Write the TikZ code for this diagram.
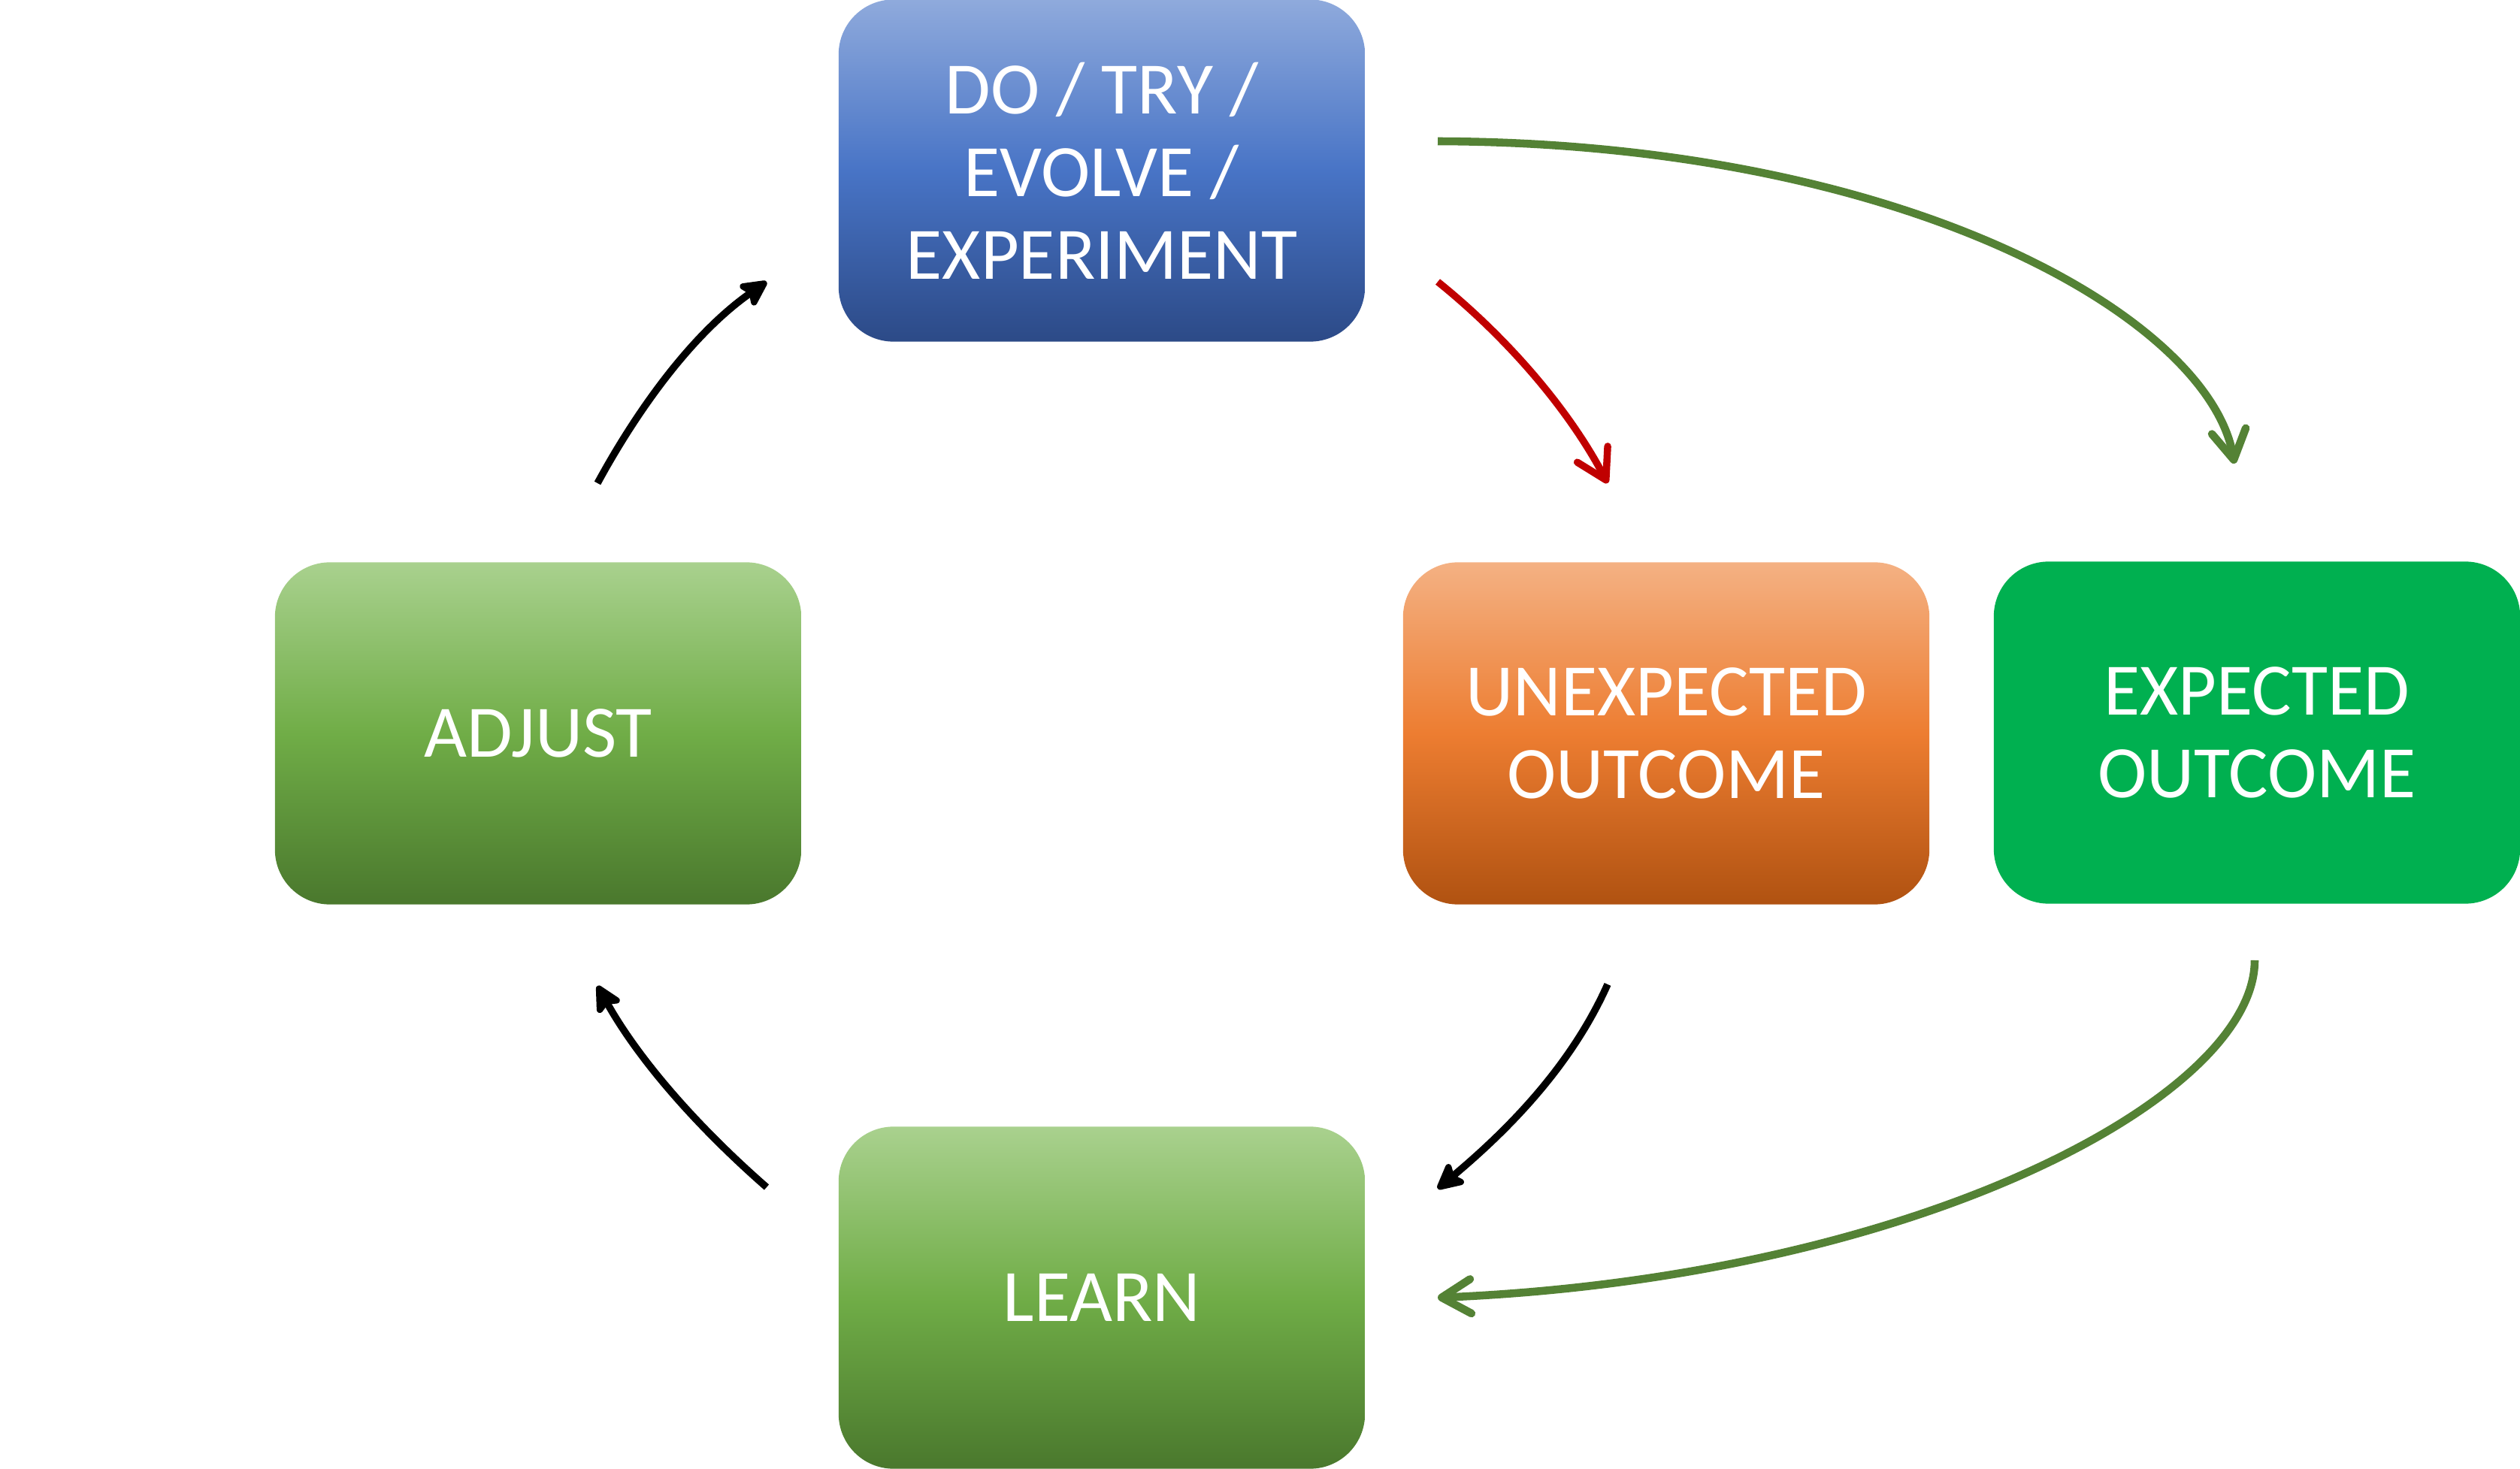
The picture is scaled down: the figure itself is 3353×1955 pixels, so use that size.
\documentclass[tikz,border=0pt]{standalone}
\usepackage{fontspec}
\setmainfont{Carlito}
\usetikzlibrary{arrows.meta}
\definecolor{blueTop}{RGB}{143,170,220}
\definecolor{blueMid}{RGB}{72,116,198}
\definecolor{blueBot}{RGB}{44,74,135}
\definecolor{grnTop}{RGB}{169,209,142}
\definecolor{grnMid}{RGB}{112,173,71}
\definecolor{grnBot}{RGB}{74,120,45}
\definecolor{orTop}{RGB}{244,177,131}
\definecolor{orMid}{RGB}{237,125,49}
\definecolor{orBot}{RGB}{176,82,17}
\definecolor{expGreen}{RGB}{0,176,80}
\definecolor{lineGreen}{RGB}{84,130,53}
\definecolor{lineRed}{RGB}{192,0,0}
\begin{document}
\begin{tikzpicture}[x=0.01cm,y=-0.01cm,
  box/.style={rounded corners=0.73cm, minimum width=7cm, minimum height=4.55cm,
    text=white, align=center, inner sep=0pt,
    font=\fontsize{28}{31.3}\selectfont},
  bluebox/.style={box, top color=blueTop, bottom color=blueBot, middle color=blueMid},
  greenbox/.style={box, top color=grnTop, bottom color=grnBot, middle color=grnMid},
  orangebox/.style={box, top color=orTop, bottom color=orBot, middle color=orMid},
  expbox/.style={box, fill=expGreen},
  blkarrow/.style={line width=2.7pt, draw=black, -{Stealth[length=12pt,width=12pt,inset=2.5pt,round]}},
  grnarrow/.style={line width=3.0pt, draw=lineGreen, -{Straight Barb[length=11pt,width=13pt,round]}},
  redarrow/.style={line width=2.7pt, draw=lineRed, -{Straight Barb[length=11pt,width=13pt,round]}}]
\useasboundingbox (0,0) rectangle (3353,1955);

\node[bluebox] (do) at (1466,227) {DO / TRY /\\EVOLVE /\\EXPERIMENT};
\node[greenbox] (adjust) at (716,976) {ADJUST};
\node[orangebox] (unexp) at (2217,976) {UNEXPECTED\\OUTCOME};
\node[expbox] (exp) at (3003,975) {EXPECTED\\OUTCOME};
\node[greenbox] (learn) at (1466,1727) {LEARN};

\coordinate (g1s) at (1913,188);
\coordinate (g1e) at (2973,617);
\coordinate (r1s) at (1913,375);
\coordinate (r1e) at (2139,643);
\coordinate (b1s) at (2139,1310);
\coordinate (b1e) at (1913,1582);
\coordinate (g2s) at (3000,1278);
\coordinate (g2e) at (1913,1727);
\coordinate (b2s) at (1020,1580);
\coordinate (b2e) at (795,1312);
\coordinate (b3s) at (795,643);
\coordinate (b3e) at (1020,375);

\draw[grnarrow] (g1s) .. controls (2540,190) and (2940,425) .. (g1e);
\draw[redarrow] (r1s) .. controls (2000,445) and (2085,540) .. (r1e);
\draw[blkarrow] (b1s) .. controls (2090,1420) and (2005,1505) .. (b1e);
\draw[grnarrow] (g2s) .. controls (3000,1460) and (2550,1700) .. (g2e);
\draw[blkarrow] (b2s) .. controls (932,1503) and (852,1414) .. (b2e);
\draw[blkarrow] (b3s) .. controls (851,540) and (924,442) .. (b3e);
\end{tikzpicture}
\end{document}
